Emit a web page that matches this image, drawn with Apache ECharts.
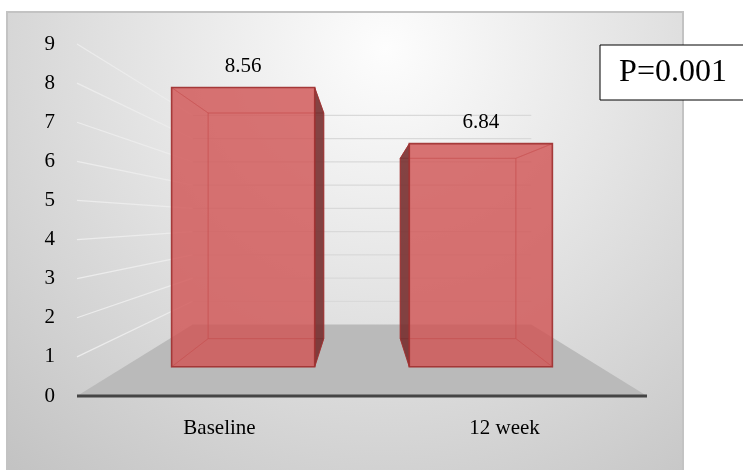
<!DOCTYPE html>
<html>
<head>
<meta charset="utf-8">
<script src="https://cdn.jsdelivr.net/npm/echarts@6/dist/echarts.min.js"></script>
<style>
  html, body { margin: 0; padding: 0; background: #ffffff; }
  #chart { width: 743px; height: 470px; }
</style>
</head>
<body>
<div id="chart"></div>
<script>
// Chart data
const categories = ['Baseline', '12 week'];
const scores = [8.56, 6.84];
const yTicks = [0, 1, 2, 3, 4, 5, 6, 7, 8, 9];
const pValueText = 'P=0.001';

// Perspective setup: each plane is scaled toward a vanishing point
// placed at the middle of the plot area.
const DEPTH_BACK_WALL = 0.594;
const DEPTH_BAR_FRONT = 0.834;
const DEPTH_BAR_BACK = 0.674;
const BAR_WIDTH_RATIO = 0.602;

const FONT_FAMILY = '"Liberation Serif", "Times New Roman", serif';
const FACE_FILL = 'rgba(208, 84, 84, 0.56)';
const SIDE_FILL = 'rgba(100, 36, 36, 0.74)';
const EDGE = 'rgba(160, 50, 50, 0.9)';
const INNER_EDGE = 'rgba(185, 70, 70, 0.45)';

function frame(api) {
  const band = api.size([1, 0])[0];
  const first = api.coord([0, 0]);
  const left = first[0] - band / 2;
  const right = left + band * categories.length;
  const yMax = yTicks[yTicks.length - 1];
  const vx = (left + right) / 2;
  const vy = api.coord([0, yMax / 2])[1];
  const project = (x, y, k) => [vx + (x - vx) * k, vy + (y - vy) * k];
  return { band, left, right, vx, vy, project };
}

// Floor, walls' gridlines and the front baseline
function renderScene(params, api) {
  const f = frame(api);
  const P = f.project;
  const L = f.left, R = f.right, KB = DEPTH_BACK_WALL;
  const y0 = api.coord([0, yTicks[0]])[1];
  const children = [];
  children.push({
    type: 'polygon',
    shape: { points: [P(L, y0, 1), P(R, y0, 1), P(R, y0, KB), P(L, y0, KB)] },
    style: { fill: '#bababa' }
  });
  yTicks.slice(1).forEach(t => {
    const y = api.coord([0, t])[1];
    children.push({
      type: 'polyline',
      shape: { points: [P(L, y, 1), P(L, y, KB)] },
      style: { stroke: '#ececec', lineWidth: 1.2, fill: null }
    });
    children.push({
      type: 'polyline',
      shape: { points: [P(L, y, KB), P(R, y, KB)] },
      style: { stroke: '#d9d9d9', lineWidth: 1.2, fill: null }
    });
  });
  children.push({
    type: 'polyline',
    shape: { points: [[L, y0], [R, y0]] },
    style: { stroke: '#454545', lineWidth: 3, fill: null }
  });
  return { type: 'group', children };
}

// Translucent 3D box for each bar, with its value above the front edge
function renderBar(params, api) {
  const f = frame(api);
  const P = f.project;
  const top = api.coord([api.value(0), api.value(1)]);
  const base = api.coord([api.value(0), 0]);
  const half = f.band * BAR_WIDTH_RATIO / 2;
  const x0 = top[0] - half, x1 = top[0] + half;
  const yt = top[1], yb = base[1];
  const k1 = DEPTH_BAR_FRONT, k2 = DEPTH_BAR_BACK;
  const face = (pts, fill, stroke, lw) => ({
    type: 'polygon',
    shape: { points: pts },
    style: { fill: fill, stroke: stroke, lineWidth: lw || 1 }
  });
  const leftOut = x0 > f.vx;
  const rightOut = x1 < f.vx;
  const frontTop = P(x0, yt, k1);
  const frontTopR = P(x1, yt, k1);
  return {
    type: 'group',
    children: [
      face([P(x0, yt, k2), P(x1, yt, k2), P(x1, yb, k2), P(x0, yb, k2)], FACE_FILL, INNER_EDGE),
      face([P(x0, yb, k1), P(x1, yb, k1), P(x1, yb, k2), P(x0, yb, k2)], FACE_FILL, INNER_EDGE),
      face([P(x0, yt, k1), P(x1, yt, k1), P(x1, yt, k2), P(x0, yt, k2)], FACE_FILL, INNER_EDGE),
      face([P(x0, yt, k1), P(x0, yt, k2), P(x0, yb, k2), P(x0, yb, k1)],
        leftOut ? SIDE_FILL : FACE_FILL, leftOut ? EDGE : INNER_EDGE),
      face([P(x1, yt, k1), P(x1, yt, k2), P(x1, yb, k2), P(x1, yb, k1)],
        rightOut ? SIDE_FILL : FACE_FILL, rightOut ? EDGE : INNER_EDGE),
      face([P(x0, yt, k1), P(x1, yt, k1), P(x1, yb, k1), P(x0, yb, k1)], FACE_FILL, EDGE, 1.6),
      {
        type: 'text',
        x: (frontTop[0] + frontTopR[0]) / 2,
        y: frontTop[1] - 21,
        style: {
          text: api.value(1).toFixed(2),
          font: '21px ' + FONT_FAMILY,
          fill: '#000000',
          align: 'center',
          verticalAlign: 'middle'
        }
      }
    ]
  };
}

const chart = echarts.init(document.getElementById('chart'), null, { renderer: 'canvas' });

chart.setOption({
  backgroundColor: '#ffffff',
  animation: false,
  grid: { left: 77, right: 96, top: 44, bottom: 74 },
  graphic: [
    {
      type: 'rect',
      z: -5,
      shape: { x: 7, y: 12, width: 676, height: 470 },
      style: {
        fill: {
          type: 'radial', x: 0.56, y: 0.08, r: 1.25,
          colorStops: [
            { offset: 0, color: '#fdfdfd' },
            { offset: 0.42, color: '#e4e4e4' },
            { offset: 1, color: '#c0c0c0' }
          ]
        },
        stroke: '#c3c3c3',
        lineWidth: 2
      }
    },
    {
      type: 'group',
      z: 20,
      children: [
        {
          type: 'rect',
          shape: { x: 600, y: 45, width: 160, height: 55 },
          style: { fill: '#ffffff', stroke: '#000000', lineWidth: 1 }
        },
        {
          type: 'text',
          x: 673, y: 73,
          style: {
            text: pValueText,
            font: '32px ' + FONT_FAMILY,
            fill: '#000000',
            align: 'center',
            verticalAlign: 'middle'
          }
        }
      ]
    }
  ],
  xAxis: {
    type: 'category',
    data: categories,
    axisLine: { show: false },
    axisTick: { show: false },
    axisLabel: {
      margin: 22,
      color: '#000000',
      fontFamily: FONT_FAMILY,
      fontSize: 21
    }
  },
  yAxis: {
    type: 'value',
    min: yTicks[0],
    max: yTicks[yTicks.length - 1],
    interval: 1,
    axisLine: { show: false },
    axisTick: { show: false },
    splitLine: { show: false },
    axisLabel: {
      margin: 22,
      color: '#000000',
      fontFamily: FONT_FAMILY,
      fontSize: 21
    }
  },
  series: [
    {
      type: 'custom',
      z: 1,
      silent: true,
      clip: false,
      renderItem: renderScene,
      data: [[0, 0]],
      encode: { x: 0, y: 1 }
    },
    {
      type: 'custom',
      z: 3,
      clip: false,
      renderItem: renderBar,
      data: scores.map((v, i) => [i, v]),
      encode: { x: 0, y: 1 }
    }
  ]
});
</script>
</body>
</html>
